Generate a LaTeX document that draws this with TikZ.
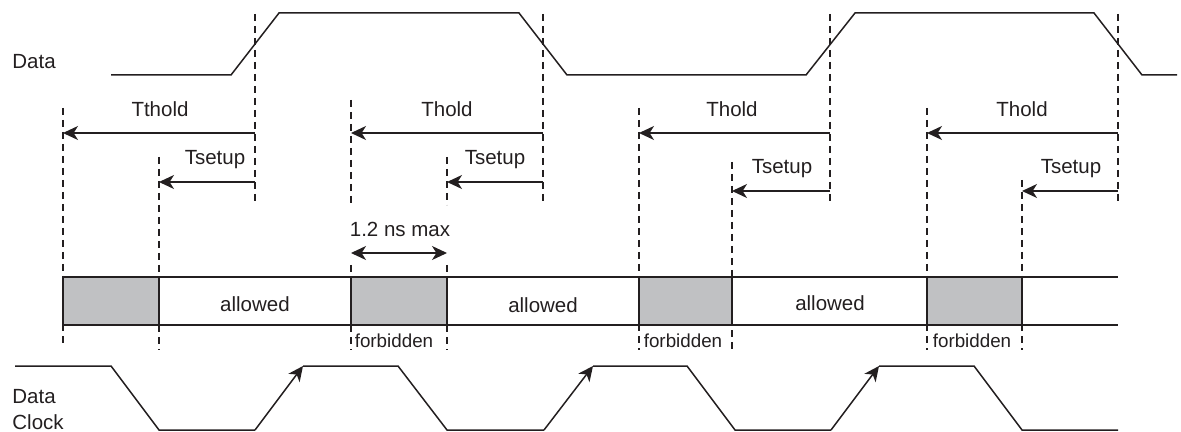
\documentclass[tikz,border=0pt]{standalone}
\usepackage{fontspec}
\setmainfont{Liberation Sans}
\usetikzlibrary{arrows.meta}
\definecolor{forbidgray}{HTML}{C0C1C3}
\definecolor{ink}{HTML}{231F20}
\begin{document}
\begin{tikzpicture}[x=0.5pt,y=-0.5pt,
  wave/.style={ink, line width=0.75pt, line join=miter},
  guide/.style={ink, dash pattern=on 3.5pt off 2.5pt, line width=0.6pt},
  dimarrow/.style={ink, line width=0.65pt, -{Stealth[length=7.5pt,width=7pt,inset=2.2pt]}},
  botharrow/.style={ink, line width=0.65pt, {Stealth[length=7.5pt,width=7pt,inset=2.2pt]}-{Stealth[length=7.5pt,width=7pt,inset=2.2pt]}},
  lbl/.style={ink, font=\fontsize{10.25}{12}\selectfont, inner sep=0pt, anchor=base},
  smalllbl/.style={ink, font=\fontsize{9.4}{11}\selectfont, inner sep=0pt, anchor=base},
  bar/.style={ink, line width=0.6pt},
  forbidbox/.style={fill=forbidgray, draw=ink, line width=1pt}
]
\useasboundingbox (0,0) rectangle (1181,432);

% ---------- labels on the left
\node[lbl, anchor=base west] (ldata) at (12,69) {Data};
\node[lbl, anchor=base west] (lcdata) at (12,403) {Data};
\node[lbl, anchor=base west] (lclock) at (12,429) {Clock};

% ---------- data waveform
\coordinate (d0) at (111,75);
\coordinate (d1) at (231,75);
\coordinate (d2) at (279,13);
\coordinate (d3) at (519,13);
\coordinate (d4) at (567,75);
\coordinate (d5) at (806,75);
\coordinate (d6) at (855,13);
\coordinate (d7) at (1094,13);
\coordinate (d8) at (1142,75);
\coordinate (d9) at (1177,75);
\draw[wave] (d0) -- (d1) -- (d2) -- (d3) -- (d4) -- (d5) -- (d6) -- (d7) -- (d8) -- (d9);

% ---------- gray forbidden boxes
\foreach \a/\b/\n in {63/159/1, 351/447/2, 639/732/3, 927/1022/4}{
  \coordinate (fa\n) at (\a,277);
  \coordinate (fb\n) at (\b,325);
  \draw[forbidbox] (fa\n) rectangle (fb\n);
}
% bar lines
\coordinate (bar1) at (63,277);
\coordinate (bar2) at (1118,277);
\coordinate (bar3) at (63,325);
\coordinate (bar4) at (1118,325);
\draw[bar] (bar1) -- (bar2);
\draw[bar] (bar3) -- (bar4);

% ---------- data transition guides
\foreach \x/\n in {255/1, 543/2, 830/3, 1118/4}{
  \coordinate (tt\n) at (\x,14);
  \coordinate (tb\n) at (\x,205);
  \draw[guide] (tt\n) -- (tb\n);
}

% ---------- hold / setup guides (continuous)
\foreach \x/\t/\bt/\n in {63/108/346/h1, 159/157/350/s1,
                         639/108/350/h3, 732/162/350/s3, 927/108/350/h4, 1022/180/350/s4}{
  \coordinate (g\n t) at (\x,\t);
  \coordinate (g\n b) at (\x,\bt);
  \draw[guide] (g\n t) -- (g\n b);
}
% guides interrupted around the 1.2 ns max label
\foreach \x/\t/\n in {351/100/h2, 447/157/s2}{
  \coordinate (g\n t) at (\x,\t);
  \coordinate (g\n m) at (\x,205);
  \coordinate (g\n n) at (\x,265);
  \coordinate (g\n b) at (\x,350);
  \draw[guide] (g\n t) -- (g\n m);
  \draw[guide] (g\n n) -- (g\n b);
}

% ---------- hold arrows
\foreach \s/\e/\n in {255/63/1, 543/351/2, 830/639/3, 1118/927/4}{
  \coordinate (ha\n) at (\s,133);
  \coordinate (hb\n) at (\e,133);
  \draw[dimarrow] (ha\n) -- (hb\n);
}
% ---------- setup arrows
\foreach \s/\e/\y/\n in {255/159/182/1, 543/447/182/2, 830/732/191/3, 1118/1022/191/4}{
  \coordinate (sa\n) at (\s,\y);
  \coordinate (sb\n) at (\e,\y);
  \draw[dimarrow] (sa\n) -- (sb\n);
}

% ---------- labels
\node[lbl] (tthold) at (160,117) {Tthold};
\node[lbl] (thold2) at (447,117) {Thold};
\node[lbl] (thold3) at (732,117) {Thold};
\node[lbl] (thold4) at (1022,117) {Thold};
\node[lbl] (tsetup1) at (215,165) {Tsetup};
\node[lbl] (tsetup2) at (495,165) {Tsetup};
\node[lbl] (tsetup3) at (782,174) {Tsetup};
\node[lbl] (tsetup4) at (1071,174) {Tsetup};

% 1.2 ns max
\node[lbl] (max) at (400,237) {1.2 ns max};
\coordinate (ma) at (351,253);
\coordinate (mb) at (447,253);
\draw[botharrow] (ma) -- (mb);

% allowed / forbidden
\node[lbl] (al1) at (255,312) {allowed};
\node[lbl] (al2) at (543,313) {allowed};
\node[lbl] (al3) at (830,311) {allowed};
\node[smalllbl] (fo2) at (394,347) {forbidden};
\node[smalllbl] (fo3) at (683,347) {forbidden};
\node[smalllbl] (fo4) at (972,347) {forbidden};

% ---------- clock waveform
\coordinate (c0) at (15,366);
\coordinate (c1) at (111,366);
\coordinate (c2) at (159,430);
\coordinate (c3) at (255,430);
\coordinate (c4) at (303,366);
\coordinate (c5) at (398,366);
\coordinate (c6) at (447,430);
\coordinate (c7) at (544,430);
\coordinate (c8) at (593,366);
\coordinate (c9) at (687,366);
\coordinate (c10) at (735,430);
\coordinate (c11) at (831,430);
\coordinate (c12) at (879,366);
\coordinate (c13) at (974,366);
\coordinate (c14) at (1022,430);
\coordinate (c15) at (1118,430);
\draw[wave] (c0) -- (c1) -- (c2) -- (c3);
\draw[wave, -{Stealth[length=7.5pt,width=7pt,inset=2.2pt]}] (c3) -- (c4);
\draw[wave] (c4) -- (c5) -- (c6) -- (c7);
\draw[wave, -{Stealth[length=7.5pt,width=7pt,inset=2.2pt]}] (c7) -- (c8);
\draw[wave] (c8) -- (c9) -- (c10) -- (c11);
\draw[wave, -{Stealth[length=7.5pt,width=7pt,inset=2.2pt]}] (c11) -- (c12);
\draw[wave] (c12) -- (c13) -- (c14) -- (c15);
\end{tikzpicture}
\end{document}
